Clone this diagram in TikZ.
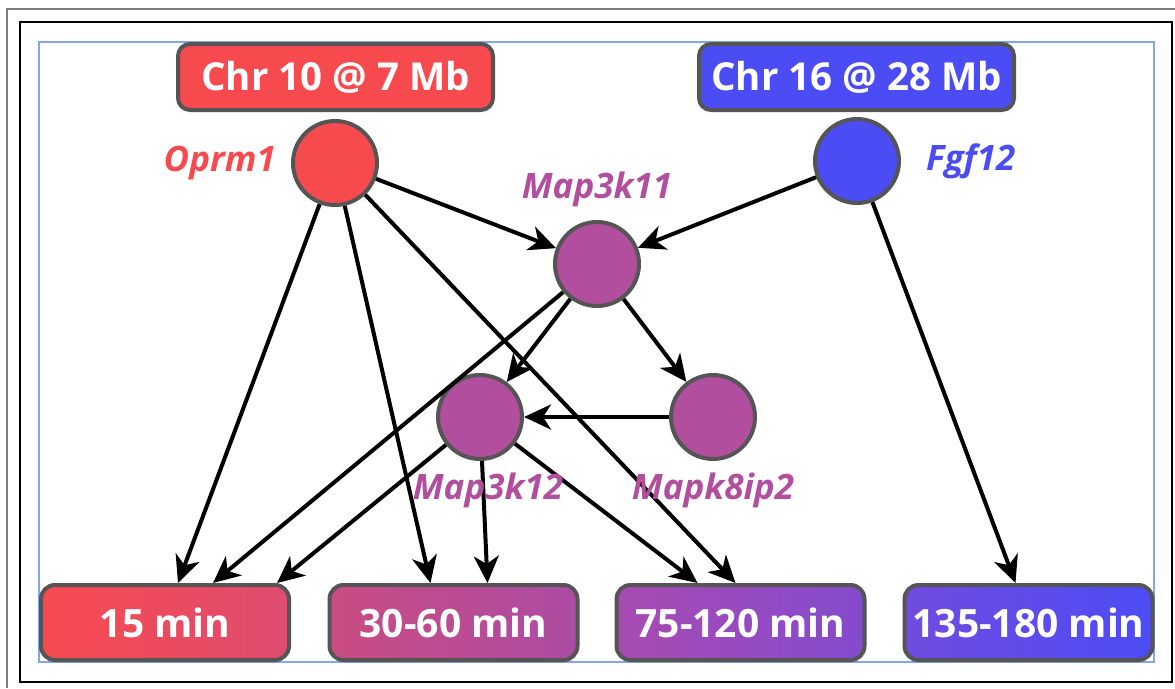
\documentclass[tikz,border=0pt]{standalone}
\usepackage{fontspec}
\setmainfont{Open Sans}
\usetikzlibrary{arrows.meta,positioning}

\definecolor{chrred}{RGB}{247,74,79}
\definecolor{chrblue}{RGB}{76,76,245}
\definecolor{mapmag}{RGB}{178,78,158}
\definecolor{rimgray}{RGB}{85,85,85}
\definecolor{framegray}{RGB}{125,125,125}
\definecolor{frameblue}{RGB}{130,165,235}
% shades along the time axis, red to blue
\definecolor{tA}{RGB}{248,74,79}
\definecolor{tB}{RGB}{222,76,112}
\definecolor{tC}{RGB}{202,76,130}
\definecolor{tD}{RGB}{172,76,164}
\definecolor{tE}{RGB}{168,75,178}
\definecolor{tF}{RGB}{132,75,206}
\definecolor{tG}{RGB}{112,75,224}
\definecolor{tH}{RGB}{76,76,245}

\tikzset{
  chrbox/.style  = {draw=rimgray, line width=4pt, rounded corners=12pt,
                    minimum width=315pt, minimum height=66pt, text=white,
                    font=\fontsize{38.5}{46}\selectfont\bfseries},
  timebox/.style = {draw=rimgray, line width=4pt, rounded corners=14pt,
                    minimum width=248pt, minimum height=75pt, text=white,
                    font=\fontsize{39}{46}\selectfont\bfseries},
  gene/.style    = {draw=rimgray, line width=4pt, circle, inner sep=0pt,
                    minimum size=84pt},
  genelbl/.style = {inner sep=0pt, font=\fontsize{35}{42}\selectfont\bfseries\itshape},
  sig/.style     = {-{Stealth[length=27pt,width=25pt,inset=8pt]}, line width=4pt},
}

\begin{document}
\begin{tikzpicture}[x=1pt,y=-1pt]
\useasboundingbox (0,0) rectangle (1175,688);
% frames
\draw[framegray, line width=2pt] (7,688) -- (7,9) -- (1175,9);
\draw[black, line width=2pt] (20,22) rectangle (1172,682);
\draw[frameblue, line width=1.5pt] (39,42) rectangle (1154,662);

\node[chrbox, fill=chrred] (chr10) at (335.5,77) {Chr 10 @ 7 Mb};
\node[chrbox, fill=chrblue] (chr16) at (856.5,77) {Chr 16 @ 28 Mb};

\node[gene, fill=chrred] (oprm) at (335,163) {};
\node[gene, fill=chrblue] (fgf) at (857,161) {};
\node[gene, fill=mapmag] (m3k11) at (597,264) {};
\node[gene, fill=mapmag] (m3k12) at (480,417) {};
\node[gene, fill=mapmag] (mk8) at (713,417) {};

\node[timebox, left color=tA, right color=tB] (t15) at (165,622.5) {15 min};
\node[timebox, left color=tC, right color=tD] (t30) at (453.5,622.5) {30-60 min};
\node[timebox, left color=tE, right color=tF] (t75) at (740.5,622.5) {75-120 min};
\node[timebox, left color=tG, right color=tH] (t135) at (1028.5,622.5) {135-180 min};

% regulatory edges
\draw[sig] (oprm) -- ([xshift=13pt]t15.north);
\draw[sig] (oprm) -- ([xshift=-23pt]t30.north);
\draw[sig] (oprm) -- (m3k11);
\draw[sig] (oprm) -- ([xshift=-5pt]t75.north);
\draw[sig] (fgf) -- (m3k11);
\draw[sig] (fgf) -- ([xshift=-13pt]t135.north);
\draw[sig] (m3k11) -- ([xshift=48pt]t15.north);
\draw[sig] (m3k11) -- (m3k12);
\draw[sig] (m3k11) -- (mk8);
\draw[sig] (mk8) -- (m3k12);
\draw[sig] (m3k12) -- ([xshift=112pt]t15.north);
\draw[sig] (m3k12) -- ([xshift=34pt]t30.north);
\draw[sig] (m3k12) -- ([xshift=-43pt]t75.north);

% gene names
\node[genelbl, text=chrred, left=15pt of oprm] (oprmlbl) {Oprm1};
\node[genelbl, text=chrblue, right=25pt of fgf] (fgflbl) {Fgf12};
\node[genelbl, text=mapmag, above=13pt of m3k11] (m3k11lbl) {Map3k11};
\node[genelbl, text=mapmag, below=12pt of m3k12, xshift=8pt] (m3k12lbl) {Map3k12};
\node[genelbl, text=mapmag, below=12pt of mk8] (mk8lbl) {Mapk8ip2};
\end{tikzpicture}
\end{document}
